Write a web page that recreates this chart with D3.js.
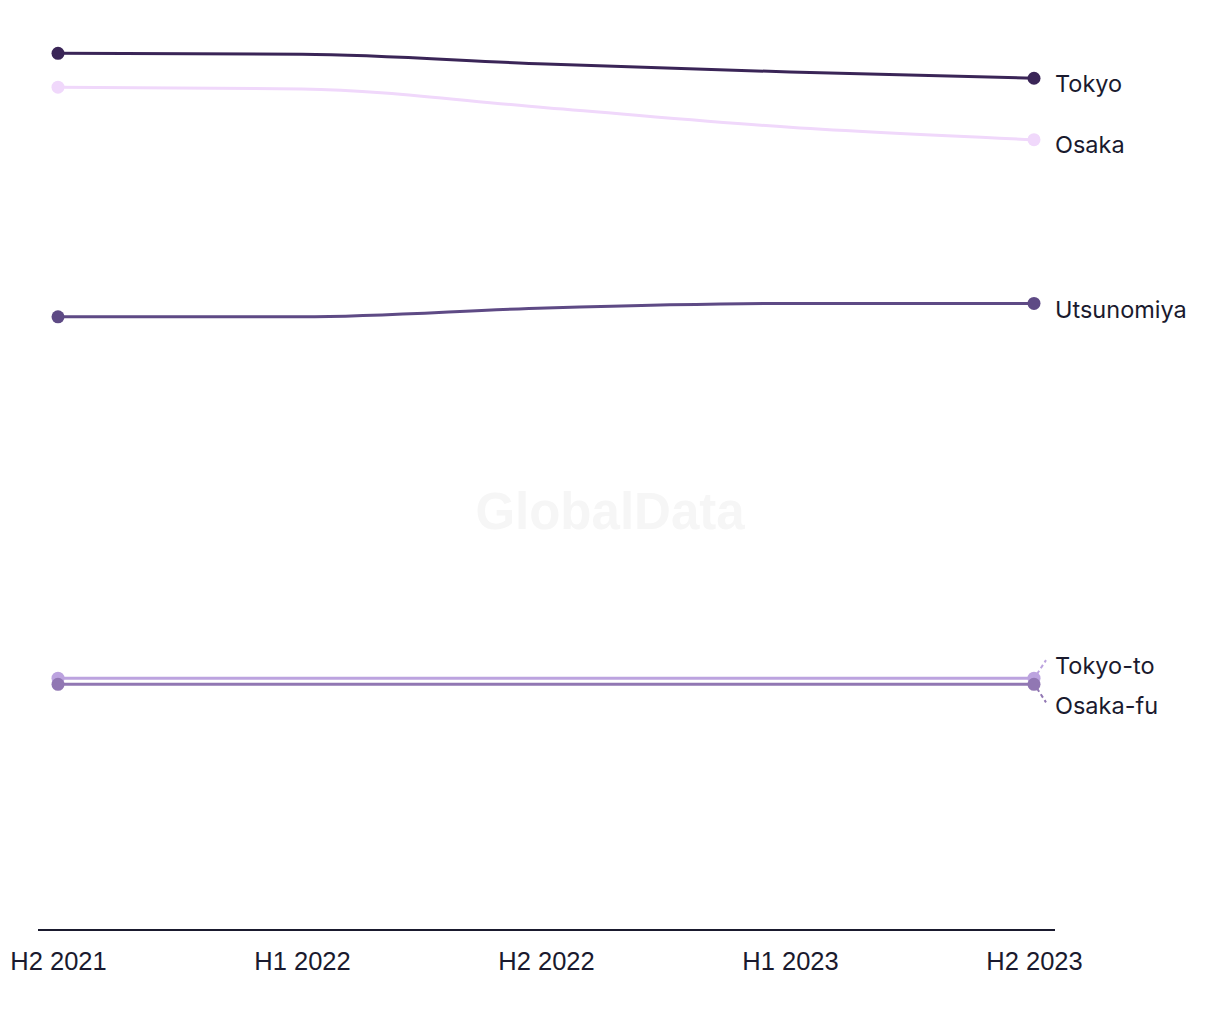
<!DOCTYPE html>
<html><head><meta charset="utf-8">
<script src="https://cdn.jsdelivr.net/npm/d3@7"></script>
<style>body{margin:0;background:#fff}</style>
</head><body>
<svg id="c" width="1220" height="1020"></svg>
<script>
const periods = ["H2 2021","H1 2022","H2 2022","H1 2023","H2 2023"];
const tokyo = [98.5, 98.4, 97.3, 96.4, 95.7];
const osaka = [94.7, 94.5, 92.4, 90.2, 88.8];
const utsunomiya = [68.9, 68.9, 69.9, 70.4, 70.4];
const tokyoTo = [28.3, 28.3, 28.3, 28.3, 28.3];
const osakaFu = [27.6, 27.6, 27.6, 27.6, 27.6];
const seriesNames = ["Tokyo","Osaka","Utsunomiya","Tokyo-to","Osaka-fu"];
const seriesColors = ["#3a2557","#f0d8fb","#5e4a85","#bca3df","#9177b3"];
const seriesValues = [tokyo, osaka, utsunomiya, tokyoTo, osakaFu];

const svg = d3.select("#c");
const x = d3.scalePoint().domain(periods).range([58, 1034]);
const y = d3.scaleLinear().domain([0, 100]).range([930, 40]);

svg.append("text").attr("x", 610).attr("y", 516).attr("text-anchor","middle")
  .attr("dominant-baseline","middle")
  .style("font-family","Liberation Sans, Arial, sans-serif").style("font-weight","bold")
  .style("font-size","51px").attr("fill","#f6f6f6").text("GlobalData");

const line = d3.line().x((d,i)=>x(periods[i])).y(d=>y(d)).curve(d3.curveMonotoneX);

const order = [3,4,2,1,0];
order.forEach(k=>{
  const vals = seriesValues[k];
  svg.append("path").attr("d", line(vals)).attr("fill","none")
    .attr("stroke", seriesColors[k]).attr("stroke-width",3);
  [0, vals.length-1].forEach(i=>{
    svg.append("circle").attr("cx", x(periods[i])).attr("cy", y(vals[i])).attr("r",6.5)
      .attr("fill", seriesColors[k]);
  });
});

const lastX = x(periods[periods.length-1]);
const labelOffsets = [7, 7, 8, -11, 23];
seriesValues.forEach((vals,k)=>{
  const yy = y(vals[vals.length-1]);
  const ly = yy + labelOffsets[k];
  if (k >= 3) {
    const ey = k===3 ? yy-18 : yy+18;
    svg.append("line").attr("x1", lastX+3).attr("y1", k===3? yy-4 : yy+4)
      .attr("x2", lastX+12).attr("y2", ey)
      .attr("stroke", seriesColors[k]).attr("stroke-width",2).attr("stroke-dasharray","4,3");
  }
  svg.append("text").attr("x", 1055).attr("y", ly).attr("dominant-baseline","middle")
    .style("font-family","Inter, sans-serif").style("font-size","23.5px")
    .attr("fill","#1a1a2e").text(seriesNames[k]);
});

const ax = svg.append("g").attr("transform","translate(0,930)")
  .call(d3.axisBottom(x).tickSize(0).tickPadding(22));
ax.select(".domain").attr("d","M38,0H1055").attr("stroke","#1a1a2e").attr("stroke-width",2);
ax.selectAll("text").style("font-family","Liberation Sans, Arial, sans-serif")
  .style("font-size","25.5px").attr("fill","#1a1a2e");
</script>
</body></html>
